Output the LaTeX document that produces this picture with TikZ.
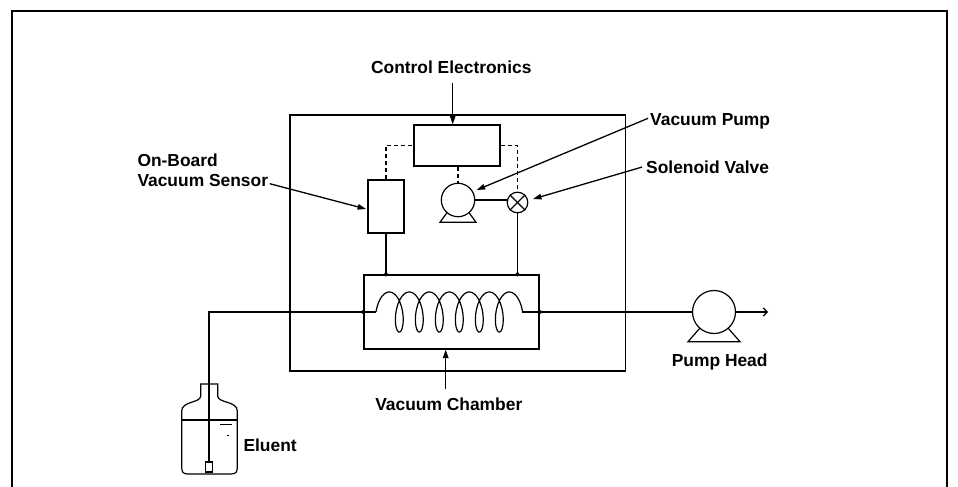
\documentclass[tikz,border=0pt]{standalone}
\usepackage{fontspec}
\setmainfont{Liberation Sans}
\usetikzlibrary{arrows.meta,calc}
\begin{document}
\begin{tikzpicture}[x=1pt,y=-1pt,
  ln/.style={line width=1.2pt},
  lab/.style={font=\fontsize{17.4}{20.7}\selectfont\bfseries, inner sep=0pt},
  ptr/.style={line width=1.3pt,-{Triangle[length=8.5pt,width=5.5pt]}},
  sig/.style={line width=1.1pt,dash pattern=on 4pt off 3pt},
  jdot/.style={circle,fill,inner sep=0pt,minimum size=4pt},
  boxn/.style={draw,line width=1.2pt,inner sep=0pt},
]
\useasboundingbox (0,0) rectangle (958,487);
\draw[line width=1.8pt] (11.7,487) -- (11.7,11.2) -- (947,11.2) -- (947,487);

% boxes
\node[boxn,minimum width=335.5pt,minimum height=256pt] (box) at (457.75,243) {};
\node[boxn,minimum width=86pt,minimum height=41pt] (ce) at (457,145.5) {};
\node[boxn,minimum width=36pt,minimum height=53pt] (sens) at (386,206.5) {};
\node[boxn,minimum width=175pt,minimum height=74pt] (ch) at (451.5,312) {};
\node[boxn,circle,minimum size=33.4pt] (vp) at (458,200) {};
\node[boxn,circle,minimum size=20.6pt] (sv) at (517.5,202.5) {};
\node[boxn,circle,minimum size=43pt] (ph) at (714,312) {};
\node[boxn,minimum width=6.5pt,minimum height=10pt] (filt) at (209,467) {};

% valve cross
\draw[ln] (sv.north east) -- (sv.south west);
\draw[ln] (sv.north west) -- (sv.south east);

% pump bases
\draw[ln] ($(vp)+(-11,12.6)$) -- ($(vp)+(-18,22.3)$) -- ($(vp)+(18,22.3)$) -- ($(vp)+(11,12.6)$);
\draw[ln] ($(ph)+(-14,16)$) -- ($(ph)+(-26,29.7)$) -- ($(ph)+(26,29.7)$) -- ($(ph)+(14,16)$);

% signal lines
\draw[sig] (sens.north) |- (ce.west);
\draw[sig] (ce.east) -| (sv.north);
\draw[sig] (ce.south -| vp.north) -- (vp.north);

% vacuum lines
\draw[ln] (vp.east) -- (vp.east -| sv.west);
\draw[ln] (sens.south) -- (sens.south |- ch.north) node[jdot] {};
\draw[ln] (sv.south) -- (sv.south |- ch.north) node[jdot] {};

% fluid path
\draw[ln] (filt.north) |- (ch.west) node[jdot] {};
\coordinate (c0) at (376,312);
\coordinate (c1) at (522,312);
\draw[ln] (ch.west) -- (c0);
\draw[ln] plot[domain=-90:2250,samples=600,smooth,variable=\t]
  ({376+0.05556*(\t+90)+8.3*(sin(\t)+1)},{312-20*cos(\t)});
\draw[ln] (c1) -- (ch.east) node[jdot] {};
\draw[ln] (ch.east) -- (ph.west);
\coordinate (out) at (768,312);
\draw[ln,-{Straight Barb[length=4pt,width=8pt]}] (ph.east) -- (out);

% bottle
\draw[ln] (200.7,384) -- (200.7,396) .. controls (200.7,403) and (181.7,401) .. (181.7,411)
  -- (181.7,467) .. controls (181.7,472) and (183,474) .. (188,474) -- (231,474)
  .. controls (236,474) and (237.3,472) .. (237.3,467) -- (237.3,411)
  .. controls (237.3,401) and (217.7,403) .. (217.7,396) -- (217.7,384) -- cycle;
\draw[ln] (181.7,420) -- (237.3,420);
\draw[line width=0.8pt] (220,424) -- (232,424);
\draw[line width=0.8pt] (226.5,435.5) -- (229,435.5);

% labels
\node[lab,anchor=base] (celab) at (451.3,74) {Control Electronics};
\node[lab,anchor=base west] (vplab) at (650,125) {Vacuum Pump};
\node[lab,anchor=base west] (svlab) at (646,173.3) {Solenoid Valve};
\node[lab,anchor=base west] (oblab) at (137.3,166) {On-Board};
\node[lab,anchor=base west] (vslab) at (137.3,186.7) {Vacuum Sensor};
\node[lab,anchor=base] (vclab) at (448.8,410.7) {Vacuum Chamber};
\node[lab,anchor=base] (phlab) at (719.7,366.7) {Pump Head};
\node[lab,anchor=base west] (ellab) at (243.3,451.7) {Eluent};

% pointers
\coordinate (ceT) at (452.7,83);
\draw[ptr] (ceT) -- (ceT |- ce.north);
\coordinate (vcT) at (445.7,389);
\draw[ptr] (vcT) -- (vcT |- ch.south);
\draw[ptr] ([xshift=-2pt,yshift=2.5pt]vplab.west) -- ($(vp)+(18.7,-10)$);
\draw[ptr] ([xshift=-4pt]svlab.west) -- ($(sv)+(15.5,-3.5)$);
\draw[ptr] ([xshift=1.5pt,yshift=-3pt]vslab.east) -- ($(sens.west)+(-1.3,2.5)$);
\end{tikzpicture}
\end{document}
